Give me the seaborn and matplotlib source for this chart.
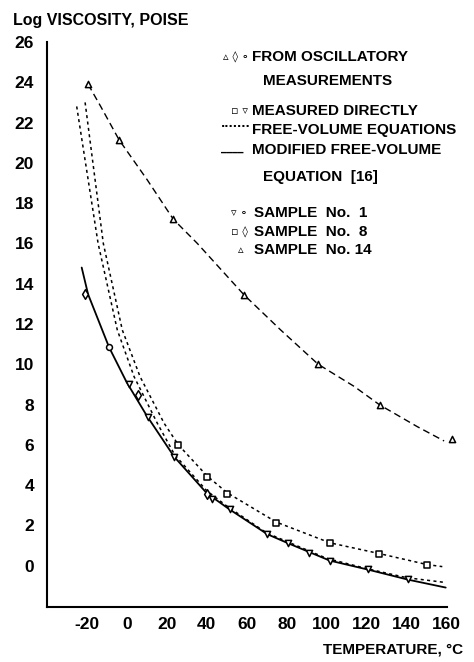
import matplotlib
matplotlib.use("Agg")
import matplotlib.pyplot as plt
import seaborn as sns
import pandas as pd

sns.set_style("white")
plt.rcParams['font.family'] = ['Liberation Sans', 'DejaVu Sans']

# ---- data (temperature degC, log viscosity) ----
s14_osc_T = [-19.3, -3.8, 23.3, 58.7, 95.7, 126.5, 162.8]
s14_osc_V = [23.9, 21.14, 17.2, 13.44, 10.0, 7.98, 6.29]

s8_osc_T = [-21.0, 5.7, 40.3]
s8_osc_V = [13.47, 8.48, 3.56]
s1_osc_T = [-8.8]
s1_osc_V = [10.84]

s8_dir_T = [25.8, 40.2, 50.2, 74.8, 101.7, 126.2, 150.3]
s8_dir_V = [5.99, 4.42, 3.58, 2.14, 1.11, 0.58, 0.03]

s1_dir_T = [1.2, 10.8, 23.7, 42.5, 51.4, 70.3, 80.7, 91.2, 101.5, 120.7, 140.8]
s1_dir_V = [9.02, 7.40, 5.41, 3.33, 2.79, 1.56, 1.11, 0.65, 0.25, -0.18, -0.68]

# curve traces
s14_curve_T = [-19.3, -13.0, -3.8, 10.3, 23.3, 35.3, 58.7, 77.0, 95.7, 113.7, 126.5, 145.3, 158.7]
s14_curve_V = [23.9, 22.8, 21.14, 19.15, 17.2, 16.0, 13.44, 11.7, 10.0, 8.9, 7.98, 6.9, 6.19]

mod_T = [-22.5, -19.3, -8.8, 0.0, 10.0, 23.7, 40.0, 51.0, 70.3, 80.7, 101.5, 120.7, 140.8, 159.5]
mod_V = [14.8, 13.47, 10.84, 9.1, 7.45, 5.41, 3.6, 2.82, 1.56, 1.11, 0.25, -0.2, -0.7, -1.09]

fv8_T = [-20.8, -11.7, -2.2, 6.7, 18.7, 25.8, 40.2, 50.2, 74.8, 101.7, 126.2, 150.3, 157.8]
fv8_V = [23.0, 16.0, 11.7, 9.38, 7.07, 6.0, 4.45, 3.62, 2.16, 1.13, 0.6, 0.05, -0.05]

fv1_T = [-25.0, -14.3, -4.7, 3.7, 15.3, 24.0, 40.0, 50.0, 70.0, 100.0, 120.0, 140.0, 159.5]
fv1_V = [22.8, 16.0, 11.7, 9.38, 7.07, 5.5, 3.72, 2.96, 1.62, 0.36, -0.15, -0.6, -0.84]

x_ticks = [-20, 0, 20, 40, 60, 80, 100, 120, 140, 160]
y_ticks = [0, 2, 4, 6, 8, 10, 12, 14, 16, 18, 20, 22, 24, 26]

W, H = 474, 662
fig = plt.figure(figsize=(W / 100, H / 100), dpi=100)
ax = fig.add_axes([46.7 / W, 1 - 607.3 / H, 400 / W, (607.3 - 42) / H])

def curve(T, V, ls, lw):
    df = pd.DataFrame({"T": T, "V": V})
    sns.lineplot(data=df, x="T", y="V", ax=ax, color="black", lw=lw,
                 linestyle=ls, sort=False, estimator=None)

curve(s14_curve_T, s14_curve_V, (0, (5, 3)), 1.0)
curve(mod_T, mod_V, "-", 1.3)
curve(fv8_T, fv8_V, (0, (2.0, 2.2)), 1.1)
curve(fv1_T, fv1_V, (0, (2.0, 2.2)), 1.1)

def pts(T, V, marker, s):
    df = pd.DataFrame({"T": T, "V": V})
    sns.scatterplot(data=df, x="T", y="V", ax=ax, marker=marker, s=s,
                    facecolor="white", edgecolor="black", linewidth=1.1,
                    clip_on=False, zorder=5)

pts(s14_osc_T, s14_osc_V, "^", 20)
pts(s8_osc_T, s8_osc_V, "d", 24)
pts(s1_osc_T, s1_osc_V, "o", 18)
pts(s8_dir_T, s8_dir_V, "s", 24)
pts(s1_dir_T, s1_dir_V, "v", 20)

ax.set_xlim(-40, 160)
ax.set_ylim(-2.07, 26)
ax.set_xticks(x_ticks)
ax.set_yticks(y_ticks)
ax.set_xticklabels([str(t) for t in x_ticks])
ax.set_yticklabels([str(t) for t in y_ticks])
ax.set_xlabel("")
ax.set_ylabel("")
for side in ["top", "right"]:
    ax.spines[side].set_visible(False)
for side in ["left", "bottom"]:
    ax.spines[side].set_color("black")
    ax.spines[side].set_linewidth(1.5)
ax.tick_params(axis="both", direction="in", length=7, width=1.0, colors="black",
               labelsize=12.5)
ax.tick_params(axis="y", pad=9)
ax.tick_params(axis="x", pad=7)
for lab in ax.get_xticklabels() + ax.get_yticklabels():
    lab.set_fontweight("bold")

def ftxt(x, y, s, size=10, ha="left", family=None):
    kw = {}
    if family is not None:
        kw["family"] = family
    fig.text(x / W, 1 - y / H, s, ha=ha, va="center", fontsize=size,
             fontweight="bold", color="black", **kw)

ftxt(13, 20.7, "Log VISCOSITY, POISE", size=11.5)
ftxt(463, 650, "TEMPERATURE, °C", size=11, ha="right")

sym = ["DejaVu Sans"]
LS = 11
ftxt(223, 57, "▵ ◊ ∘", size=8, family=sym)
ftxt(252, 57, "FROM OSCILLATORY", size=LS)
ftxt(263, 81, "MEASUREMENTS", size=LS)
ftxt(231, 111, "▫ ▿", size=8, family=sym)
ftxt(252, 111, "MEASURED DIRECTLY", size=LS)
ftxt(221, 127, "·······", size=8, family=sym)
ftxt(252, 130, "FREE-VOLUME EQUATIONS", size=LS)
ftxt(221, 148, "____", size=8, family=sym)
ftxt(252, 150, "MODIFIED FREE-VOLUME", size=LS)
ftxt(263, 177, "EQUATION  [16]", size=LS)
ftxt(231, 213, "▿ ∘", size=8, family=sym)
ftxt(254, 213, "SAMPLE  No.  1", size=LS)
ftxt(231, 232, "▫ ◊", size=8, family=sym)
ftxt(254, 232, "SAMPLE  No.  8", size=LS)
ftxt(238, 250, "▵", size=8, family=sym)
ftxt(254, 250, "SAMPLE  No. 14", size=LS)

fig.savefig("out.png", dpi=100)
